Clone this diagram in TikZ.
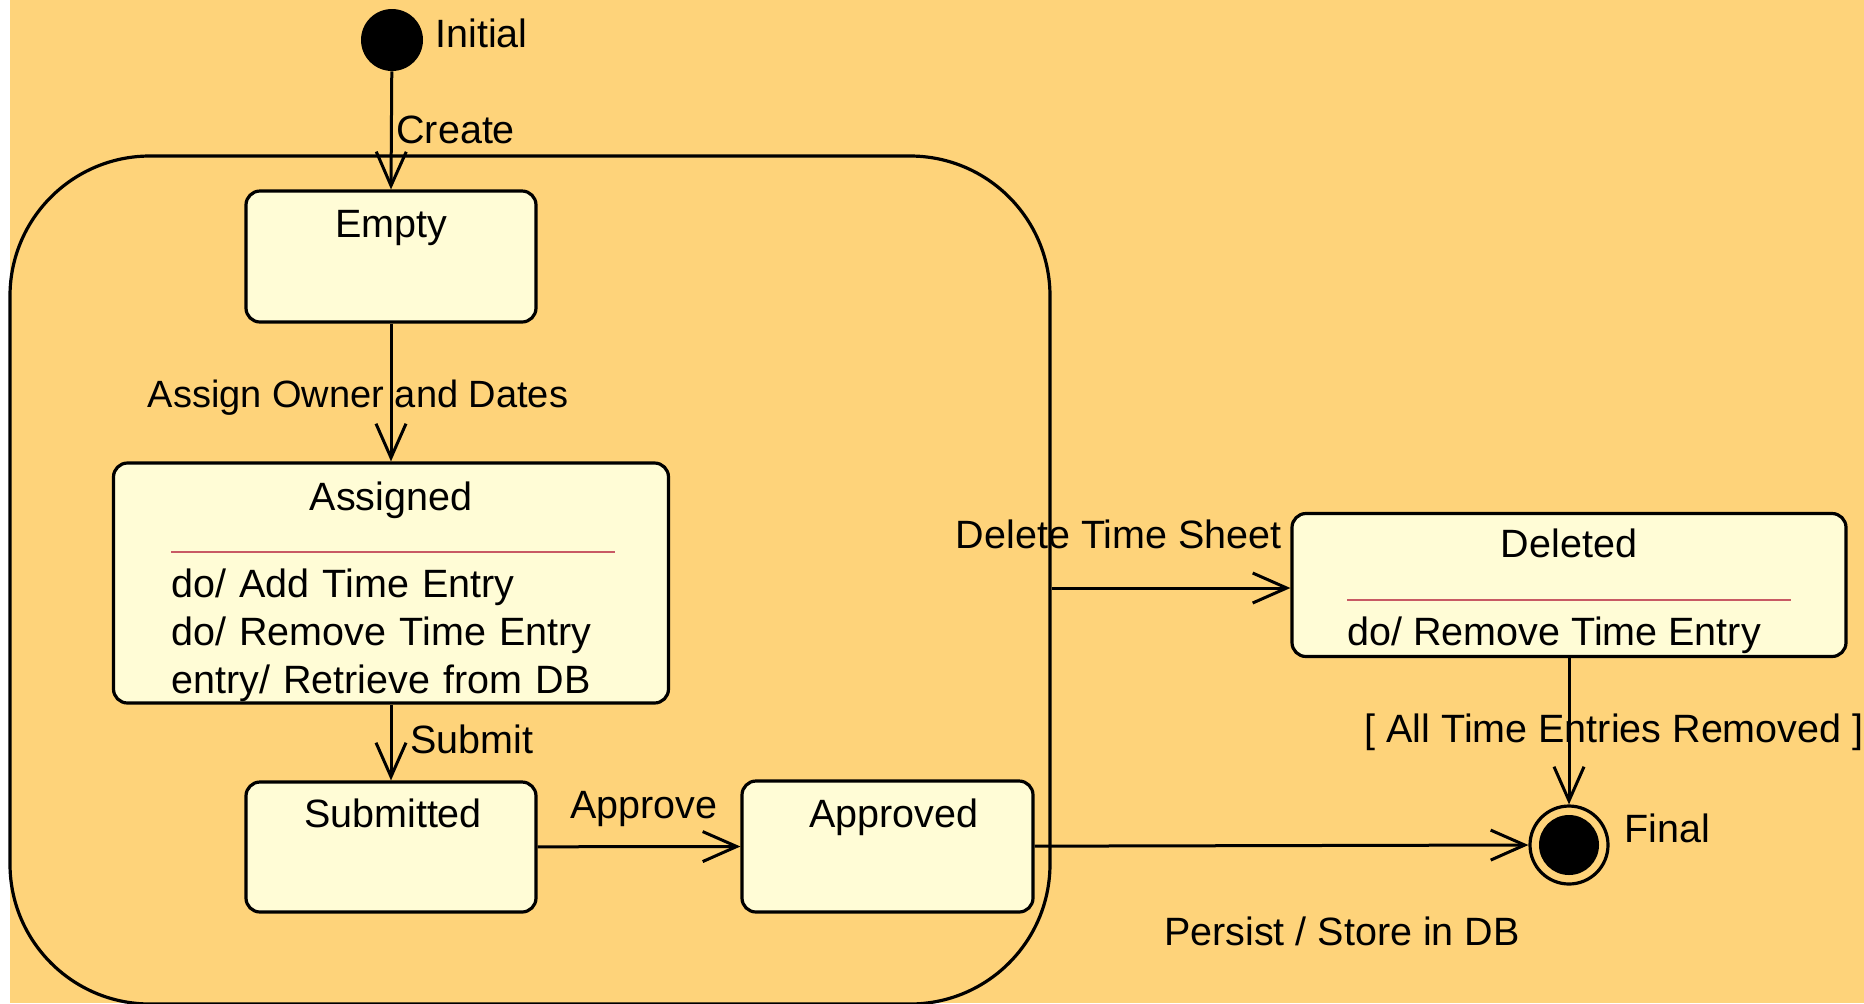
\documentclass[tikz,border=0pt]{standalone}
\usepackage{fontspec}
\setmainfont{Liberation Sans}
\usetikzlibrary{positioning, arrows.meta, calc}

\definecolor{bgorange}{RGB}{254,211,122}
\definecolor{statefill}{RGB}{255,252,214}
\definecolor{sepred}{RGB}{200,90,100}

\begin{document}
\begin{tikzpicture}[
x=0.5pt, y=-0.5pt,
    state/.style={rectangle, draw, fill=statefill, line width=1.6pt, rounded corners=7pt, inner sep=0pt},
    composite/.style={rectangle, draw, line width=1.6pt, rounded corners=70pt, inner sep=0pt, minimum width=520pt, minimum height=424pt},
    title/.style={anchor=base, inner sep=0pt, font=\fontsize{19.75}{24}\selectfont},
    activity/.style={anchor=base west, align=left, inner sep=0pt, font=\fontsize{19.75}{24}\selectfont},
    lbl/.style={anchor=base west, inner sep=0pt, font=\fontsize{19.75}{24}\selectfont},
    sep/.style={draw=sepred, line width=0.8pt},
    trans/.style={draw, line width=1.5pt, -{Straight Barb[length=17pt, width=15pt]}},
    initial/.style={circle, fill=black, minimum size=31pt, inner sep=0pt},
    final/.style={circle, draw, line width=1.6pt, minimum size=39pt, inner sep=0pt},
    finaldot/.style={circle, fill=black, minimum size=30pt, inner sep=0pt}
]

    % --- Canvas ---
    \fill[white] (0,0) rectangle (1864,1003);
    \fill[bgorange] (10,0) rectangle (1864,1003);
    \useasboundingbox (0,0) rectangle (1864,1003);

    % --- Composite state ---
    \node[composite] (composite) at (530, 580) {};

    % --- Pseudo states ---
    \node[initial] (init) at (392, 40) {};
    \node[lbl] (initlbl) at (435, 47) {Initial};

    \node[final] (final) at (1569, 845) {};
    \node[finaldot] (finaldot) at (final.center) {};
    \node[lbl] (finallbl) at (1624, 842) {Final};

    % --- States inside the composite ---
    \node[state, minimum width=145pt, minimum height=65.5pt] (empty) at (391, 256.5) {};
    \node[title] (emptyname) at (391, 237) {Empty};

    \node[state, minimum width=277.5pt, minimum height=120pt] (assigned) at (391, 583) {};
    \node[title] (assignedname) at (391, 510) {Assigned};
    \draw[sep] (171, 552) -- (615, 552);
    \node[activity, text width=260pt] (assignedact) at (171, 597) {do/ Add Time Entry\\do/ Remove Time Entry\\entry/ Retrieve from DB};

    \node[state, minimum width=145pt, minimum height=65pt] (submitted) at (391, 847) {};
    \node[title] (submittedname) at (393, 827) {Submitted};

    \node[state, minimum width=145.5pt, minimum height=65.5pt] (approved) at (887.5, 846.5) {};
    \node[title] (approvedname) at (894, 827) {Approved};

    % --- State outside ---
    \node[state, minimum width=277pt, minimum height=71.5pt] (deleted) at (1569, 585) {};
    \node[title] (deletedname) at (1569, 557) {Deleted};
    \draw[sep] (1347, 600) -- (1791, 600);
    \node[activity] (deletedact) at (1347, 645) {do/ Remove Time Entry};

    % --- Transitions ---
    \draw[trans] (init) -- (empty.north);
    \node[lbl] (createlbl) at (396, 143) {Create};

    \draw[trans] (empty) -- (assigned.north);
    \node[lbl, anchor=base, font=\fontsize{19}{24}\selectfont] (assignlbl) at (358, 407) {Assign Owner and Dates};

    \draw[trans] (assigned) -- (submitted.north);
    \node[lbl] (submitlbl) at (410, 753) {Submit};

    \draw[trans] (submitted) -- (approved.west);
    \node[lbl, anchor=base] (approvelbl) at (644, 818) {Approve};

    \draw[trans] ([yshift=-1.5pt]composite.east |- deleted.west) -- ([yshift=-1.5pt]deleted.west);
    \node[lbl, anchor=base east] (deletelbl) at (1282, 548) {Delete Time Sheet};

    \draw[trans] (deleted) -- (final.north);
    \node[lbl, anchor=base] (guardlbl) at (1614, 742) {[ All Time Entries Removed ]};

    \draw[trans] (approved) -- (final.west);
    \node[lbl, anchor=base] (persistlbl) at (1342, 945) {Persist / Store in DB};

\end{tikzpicture}
\end{document}
